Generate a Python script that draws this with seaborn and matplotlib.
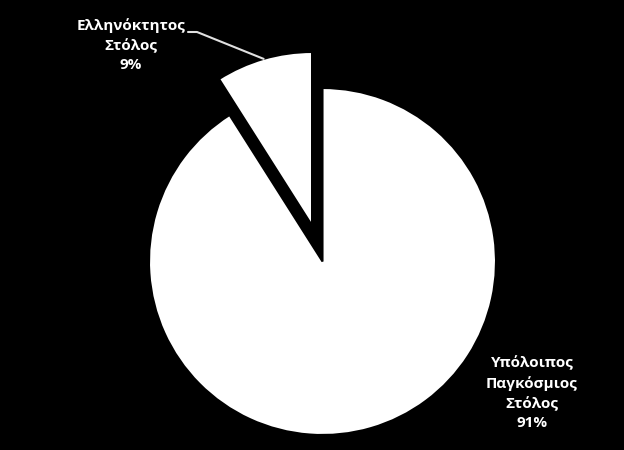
import numpy as np
import matplotlib.pyplot as plt
import seaborn as sns

# data
labels = ["Ελληνόκτητος\nΣτόλος\n9%", "Υπόλοιπος\nΠαγκόσμιος\nΣτόλος\n91%"]
shares = [9, 91]

sns.set_style("dark", {"axes.facecolor": "black", "figure.facecolor": "black"})
plt.rcParams['font.family'] = ['Open Sans', 'DejaVu Sans']

fig = plt.figure(figsize=(6.24, 4.5), dpi=100)
ax = fig.add_axes([0, 0, 1, 1])

# axes in pixel units, so explode is given in px
cx, cy, r = 322.5, 188.5, 173.5
explode = [37.5, 0.0]
wedges, _ = ax.pie(shares, explode=explode, startangle=90, counterclock=True,
                   colors=["white", "white"], center=(cx, cy), radius=r,
                   wedgeprops=dict(edgecolor="black", linewidth=1.5))
ax.set_xlim(0, 624)
ax.set_ylim(0, 450)
ax.set_aspect("equal")
ax.axis("off")

# leader line for the small slice
w = wedges[0]
th = np.deg2rad(w.theta1 + 0.5 * (w.theta2 - w.theta1))
px = w.center[0] + w.r * np.cos(th)
py = w.center[1] + w.r * np.sin(th)
ax.plot([188, 197, px], [418, 418, py], color="#e0e0e0", lw=1.5)

txt = dict(color="white", fontsize=11, fontweight="bold", ha="center",
           va="center", linespacing=1.47)
ax.text(131, 405, labels[0], **txt)
ax.text(532, 57, labels[1], **txt)

fig.savefig("out.png", dpi=100, facecolor="black")
